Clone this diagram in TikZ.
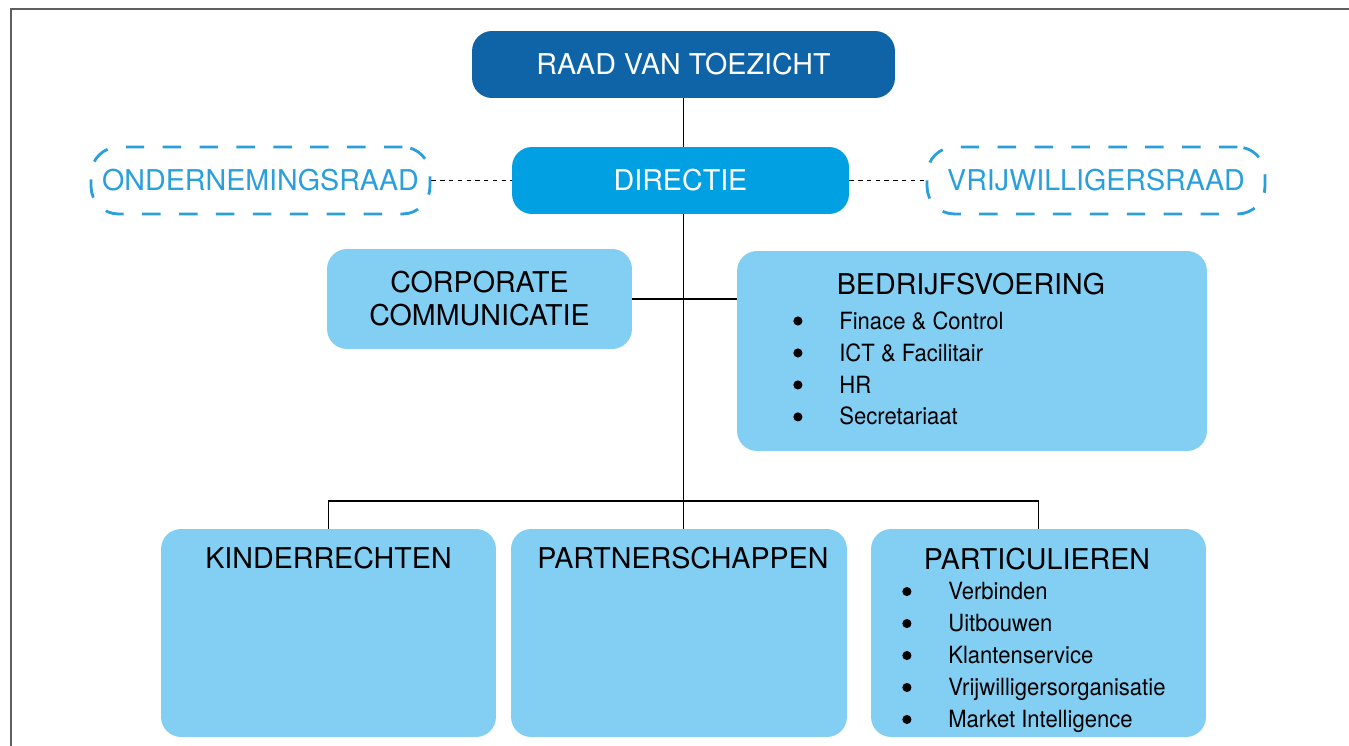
\documentclass[tikz,border=0pt]{standalone}
\usepackage{fontspec}
\setmainfont{TeX Gyre Heros}
\newfontfamily\smal[FakeStretch=0.93]{TeX Gyre Heros}
\usetikzlibrary{positioning}
\definecolor{raadblauw}{HTML}{0E64A6}
\definecolor{dirblauw}{HTML}{00A0E3}
\definecolor{lichtblauw}{HTML}{83CFF4}
\definecolor{lijnblauw}{HTML}{2A9FDB}
\definecolor{kader}{HTML}{5E5E5E}
\newcommand{\kop}{\fontsize{16.3}{18.8}\selectfont}
\newcommand{\lijst}{\smal\fontsize{13.5}{18.2}\selectfont}
\newcommand{\stipje}{\tikz[baseline=-4.6pt]\fill (0,0) circle (2.6pt);}
\newcommand{\punt}[1]{\makebox[0.92cm][l]{\stipje}#1}
\tikzset{
  raadbox/.style={rectangle, rounded corners=0.4cm, fill=raadblauw, text=white, font=\kop, minimum height=1.34cm},
  dirbox/.style={rectangle, rounded corners=0.4cm, fill=dirblauw, text=white, font=\kop, minimum height=1.34cm},
  overleg/.style={rectangle, rounded corners=0.55cm, draw=lijnblauw, line width=1.6pt, dash pattern=on 10.5pt off 10.5pt, text=lijnblauw, font=\kop, minimum height=1.34cm},
  unit/.style={rectangle, rounded corners=0.4cm, fill=lichtblauw, font=\kop, align=center},
  kop/.style={font=\kop, anchor=base, inner sep=0pt},
  lijst/.style={font=\lijst, anchor=north west, align=left, inner sep=0pt},
  lijn/.style={draw=black, line width=0.6pt},
  stip/.style={draw=black, line width=0.6pt, dash pattern=on 2.5pt off 2.5pt}
}
\begin{document}
\begin{tikzpicture}[x=0.02cm, y=-0.02cm]
    \useasboundingbox (0,0) rectangle (1349,746);
    \draw[kader, line width=1.1pt] (11,746) -- (11,9) -- (1349,9);

    \node (raad) at (683.5,64.5) [raadbox, minimum width=8.46cm] {RAAD VAN TOEZICHT};
    \node (directie) at (680.5,180.5) [dirbox, minimum width=6.74cm] {DIRECTIE};
    \node (or) at (260.5,180.5) [overleg, minimum width=6.78cm] {ONDERNEMINGSRAAD};
    \node (vr) at (1096,180.5) [overleg, minimum width=6.76cm] {VRIJWILLIGERSRAAD};

    \node (corpcom) at (479.5,299) [unit, minimum width=6.10cm, minimum height=2.00cm] {CORPORATE\\COMMUNICATIE};
    \node (bedrijf) at (972,351) [unit, minimum width=9.40cm, minimum height=4.00cm] {};
    \node (kinder) at (328.5,633) [unit, minimum width=6.70cm, minimum height=4.16cm] {};
    \node (partner) at (679,633) [unit, minimum width=6.72cm, minimum height=4.16cm] {};
    \node (partic) at (1038.5,633) [unit, minimum width=6.70cm, minimum height=4.16cm] {};

    \node (bedrijfkop) at (971,295) [kop] {BEDRIJFSVOERING};
    \node (bedrijflijst) at (793,311) [lijst] {\punt{Finace \& Control}\\\punt{ICT \& Facilitair}\\\punt{HR}\\\punt{Secretariaat}};
    \node (kinderkop) at (328.5,568) [kop] {KINDERRECHTEN};
    \node (partnerkop) at (683,568) [kop] {PARTNERSCHAPPEN};
    \node (partickop) at (1037,569) [kop] {PARTICULIEREN};
    \node (particlijst) at (902,582) [lijst] {\punt{Verbinden}\\\punt{Uitbouwen}\\\punt{Klantenservice}\\\punt{Vrijwilligersorganisatie}\\\punt{Market Intelligence}};

    \coordinate (hub) at (683.5,501);
    \draw[stip] (or) -- (directie);
    \draw[stip] (directie) -- (vr);
    \draw[lijn] (raad.south) -- (raad.south |- directie.north);
    \draw[lijn] (raad.south |- directie.south) -- (hub);
    \draw[lijn] (corpcom.east) -- (bedrijf.west |- corpcom.east);
    \draw[lijn] (kinder.north) -- (kinder.north |- hub) -- (partic.north |- hub) -- (partic.north);
    \draw[lijn] (hub) -- (hub |- partner.north);
\end{tikzpicture}
\end{document}
